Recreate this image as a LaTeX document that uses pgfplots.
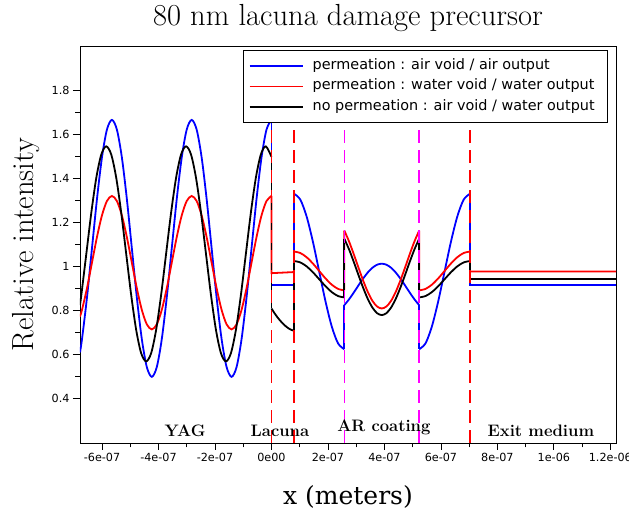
\documentclass[border=0pt]{standalone}
\usepackage{fontspec}
\usepackage{pgfplots}
\pgfplotsset{compat=1.18}
\newfontfamily\dejavu{DejaVu Sans}
\newfontfamily\dejavuserif{DejaVu Serif}
\definecolor{bndred}{RGB}{255,0,0}
\definecolor{bndmag}{RGB}{255,0,255}
\begin{document}
\begin{tikzpicture}[x=1pt,y=1pt]
\useasboundingbox (0,0) rectangle (629,510);
\begin{axis}[
  at={(80pt,67pt)}, anchor=south west, scale only axis,
  width=536pt, height=397pt,
  xmin=-6.78e-7, xmax=1.22e-6, ymin=0.2, ymax=2.0,
  xtick={-6e-7,-4e-7,-2e-7,0,2e-7,4e-7,6e-7,8e-7,1e-6,1.2e-6},
  xticklabels={-6e-07,-4e-07,-2e-07,0e00,2e-07,4e-07,6e-07,8e-07,1e-06,1.2e-06},
  ytick={0.4,0.6,0.8,1.0,1.2,1.4,1.6,1.8},
  yticklabels={0.4,0.6,0.8,1,1.2,1.4,1.6,1.8},
  minor x tick num=1, minor y tick num=1,
  scaled ticks=false,
  tick align=outside, xtick pos=lower, ytick pos=left,
  major tick length=7pt, minor tick length=4.5pt,
  tick style={black, line width=0.8pt},
  ticklabel style={font=\dejavu\fontsize{11.2}{13}\selectfont},
  axis line style={line width=0.8pt},
  title={80 nm lacuna damage precursor},
  every axis title/.style={font=\fontsize{30.5}{36}\selectfont, at={(axis description cs:0.5,1)}, anchor=base, yshift=20pt},
  xlabel={x (meters)},
  every axis x label/.style={font=\dejavuserif\fontsize{25}{30}\selectfont, at={(axis description cs:0.5,0)}, anchor=base, yshift=-62pt},
  ylabel={Relative intensity},
  every axis y label/.style={font=\fontsize{30.5}{36}\selectfont, at={(axis description cs:-0.1007,0.5)}, rotate=90, anchor=center},
  legend style={at={(axis description cs:1,1)}, anchor=north east, xshift=-8pt, yshift=-4pt,
    font=\dejavu\fontsize{14.4}{17}\selectfont, draw=black, line width=0.7pt,
    inner xsep=4pt, inner ysep=5.5pt, row sep=0pt,
    nodes={inner xsep=0pt, inner ysep=3.5pt, text height=10pt, text depth=3.5pt},
    cells={anchor=west}},
  legend image code/.code={\path[draw=none,fill=none] (-2pt,0pt) -- (63pt,0pt); \draw[#1, line width=1.8pt] (0pt,0pt) -- (53pt,0pt);},
  every axis plot/.append style={line width=1.8pt},
]
% ---------- YAG region (legend carriers) ----------
\addplot[blue, smooth] coordinates {
(-6.78e-7,0.611) (-6.7094e-7,0.6706) (-6.5328e-7,0.8596) (-6.3563e-7,1.0825) (-6.1797e-7,1.3054)
(-6.0031e-7,1.4944) (-5.8266e-7,1.6207) (-5.65e-7,1.665) (-5.4734e-7,1.6207) (-5.2969e-7,1.4944)
(-5.1203e-7,1.3054) (-4.9438e-7,1.0825) (-4.7672e-7,0.8596) (-4.5906e-7,0.6706) (-4.4141e-7,0.5443)
(-4.2375e-7,0.5) (-4.0609e-7,0.5443) (-3.8844e-7,0.6706) (-3.7078e-7,0.8596) (-3.5313e-7,1.0825)
(-3.3547e-7,1.3054) (-3.1781e-7,1.4944) (-3.0016e-7,1.6207) (-2.825e-7,1.665) (-2.6484e-7,1.6207)
(-2.4719e-7,1.4944) (-2.2953e-7,1.3054) (-2.1188e-7,1.0825) (-1.9422e-7,0.8596) (-1.7656e-7,0.6706)
(-1.5891e-7,0.5443) (-1.4125e-7,0.5) (-1.2359e-7,0.5443) (-1.0594e-7,0.6706) (-0.8828e-7,0.8596)
(-0.7063e-7,1.0825) (-0.5297e-7,1.3054) (-0.3531e-7,1.4944) (-0.1766e-7,1.6207) (0,1.665)};
\addlegendentry{permeation : air void / air output\hspace*{9pt}}
\addplot[red, smooth] coordinates {
(-6.78e-7,0.773) (-6.7094e-7,0.8036) (-6.5328e-7,0.9017) (-6.3563e-7,1.0175) (-6.1797e-7,1.1333)
(-6.0031e-7,1.2314) (-5.8266e-7,1.297) (-5.65e-7,1.32) (-5.4734e-7,1.297) (-5.2969e-7,1.2314)
(-5.1203e-7,1.1333) (-4.9438e-7,1.0175) (-4.7672e-7,0.9017) (-4.5906e-7,0.8036) (-4.4141e-7,0.738)
(-4.2375e-7,0.715) (-4.0609e-7,0.738) (-3.8844e-7,0.8036) (-3.7078e-7,0.9017) (-3.5313e-7,1.0175)
(-3.3547e-7,1.1333) (-3.1781e-7,1.2314) (-3.0016e-7,1.297) (-2.825e-7,1.32) (-2.6484e-7,1.297)
(-2.4719e-7,1.2314) (-2.2953e-7,1.1333) (-2.1188e-7,1.0175) (-1.9422e-7,0.9017) (-1.7656e-7,0.8036)
(-1.5891e-7,0.738) (-1.4125e-7,0.715) (-1.2359e-7,0.738) (-1.0594e-7,0.8036) (-0.8828e-7,0.9017)
(-0.7063e-7,1.0175) (-0.5297e-7,1.1333) (-0.3531e-7,1.2314) (-0.1766e-7,1.297) (0,1.32)};
\addlegendentry{permeation : water void / water output\hspace*{9pt}}
\addplot[black, smooth] coordinates {
(-6.78e-7,0.825) (-6.7328e-7,0.8709) (-6.5563e-7,1.0575) (-6.3797e-7,1.2441) (-6.2031e-7,1.4022)
(-6.0266e-7,1.5079) (-5.85e-7,1.545) (-5.6734e-7,1.5079) (-5.4969e-7,1.4022) (-5.3203e-7,1.2441)
(-5.1438e-7,1.0575) (-4.9672e-7,0.8709) (-4.7906e-7,0.7128) (-4.6141e-7,0.6071) (-4.4375e-7,0.57)
(-4.2609e-7,0.6071) (-4.0844e-7,0.7128) (-3.9078e-7,0.8709) (-3.7313e-7,1.0575) (-3.5547e-7,1.2441)
(-3.3781e-7,1.4022) (-3.2016e-7,1.5079) (-3.025e-7,1.545) (-2.8484e-7,1.5079) (-2.6719e-7,1.4022)
(-2.4953e-7,1.2441) (-2.3188e-7,1.0575) (-2.1422e-7,0.8709) (-1.9656e-7,0.7128) (-1.7891e-7,0.6071)
(-1.6125e-7,0.57) (-1.4359e-7,0.6071) (-1.2594e-7,0.7128) (-1.0828e-7,0.8709) (-0.9063e-7,1.0575)
(-0.7297e-7,1.2441) (-0.5531e-7,1.4022) (-0.3766e-7,1.5079) (-0.2e-7,1.545) (0,1.4975)};
\addlegendentry{no permeation : air void / water output\hspace*{9pt}}

% ---------- blue: other layers ----------
\addplot[blue, forget plot, unbounded coords=jump] coordinates {
(0,1.665) (0,0.915) (0.8e-7,0.915) (0.8e-7,1.33) (1e-7,nan)
(2.58e-7,0.625) (2.58e-7,0.8252) (3e-7,nan)
(5.23e-7,0.8252) (5.23e-7,0.625) (6e-7,nan)
(7.03e-7,1.33) (7.03e-7,0.915) (1.22e-6,0.915)};
\addplot[blue, smooth, forget plot] coordinates {
(0.8e-7,1.33) (1.0225e-7,1.3032) (1.245e-7,1.2267) (1.4675e-7,1.1124) (1.69e-7,0.9775)
(1.9125e-7,0.8426) (2.135e-7,0.7282) (2.3575e-7,0.6518) (2.58e-7,0.625)};
\addplot[blue, smooth, forget plot] coordinates {
(2.58e-7,0.8252) (2.7456e-7,0.8511) (2.9113e-7,0.8815) (3.0769e-7,0.9138) (3.2425e-7,0.9451)
(3.4081e-7,0.9728) (3.5738e-7,0.9945) (3.7394e-7,1.0083) (3.905e-7,1.013) (4.0706e-7,1.0083)
(4.2363e-7,0.9945) (4.4019e-7,0.9728) (4.5675e-7,0.9451) (4.7331e-7,0.9138) (4.8988e-7,0.8815)
(5.0644e-7,0.8511) (5.23e-7,0.8252)};
\addplot[blue, smooth, forget plot] coordinates {
(5.23e-7,0.625) (5.455e-7,0.6518) (5.68e-7,0.7282) (5.905e-7,0.8426) (6.13e-7,0.9775)
(6.355e-7,1.1124) (6.58e-7,1.2267) (6.805e-7,1.3032) (7.03e-7,1.33)};

% ---------- red: other layers ----------
\addplot[red, forget plot, unbounded coords=jump] coordinates {
(0,1.32) (0,0.97) (0.8e-7,0.975) (0.8e-7,1.068) (1e-7,nan)
(2.58e-7,0.892) (2.58e-7,1.163) (3e-7,nan)
(5.23e-7,1.163) (5.23e-7,0.892) (6e-7,nan)
(7.03e-7,1.068) (7.03e-7,0.978) (1.22e-6,0.978)};
\addplot[red, smooth, forget plot] coordinates {
(0.8e-7,1.068) (1.0225e-7,1.0613) (1.245e-7,1.0422) (1.4675e-7,1.0137) (1.69e-7,0.98)
(1.9125e-7,0.9463) (2.135e-7,0.9178) (2.3575e-7,0.8987) (2.58e-7,0.892)};
\addplot[red, smooth, forget plot] coordinates {
(2.58e-7,1.163) (2.7456e-7,1.1143) (2.9113e-7,1.0571) (3.0769e-7,0.9965) (3.2425e-7,0.9377)
(3.4081e-7,0.8856) (3.5738e-7,0.8448) (3.7394e-7,0.8189) (3.905e-7,0.81) (4.0706e-7,0.8189)
(4.2363e-7,0.8448) (4.4019e-7,0.8856) (4.5675e-7,0.9377) (4.7331e-7,0.9965) (4.8988e-7,1.0571)
(5.0644e-7,1.1143) (5.23e-7,1.163)};
\addplot[red, smooth, forget plot] coordinates {
(5.23e-7,0.892) (5.455e-7,0.8987) (5.68e-7,0.9178) (5.905e-7,0.9463) (6.13e-7,0.98)
(6.355e-7,1.0137) (6.58e-7,1.0422) (6.805e-7,1.0613) (7.03e-7,1.068)};

% ---------- black: other layers ----------
\addplot[black, forget plot, unbounded coords=jump] coordinates {
(0,1.4975) (0,0.81) (0.5e-7,nan)
(0.8e-7,0.709) (0.8e-7,1.025) (1e-7,nan)
(2.58e-7,0.86) (2.58e-7,1.126) (3e-7,nan)
(5.23e-7,1.126) (5.23e-7,0.86) (6e-7,nan)
(7.03e-7,1.025) (7.03e-7,0.942) (1.22e-6,0.942)};
\addplot[black, smooth, forget plot] coordinates {
(0,0.81) (1e-8,0.79) (2e-8,0.772) (3e-8,0.756) (4e-8,0.742) (5e-8,0.73) (6e-8,0.72) (7e-8,0.713) (8e-8,0.709)};
\addplot[black, smooth, forget plot] coordinates {
(0.8e-7,1.025) (1.0225e-7,1.0187) (1.245e-7,1.0008) (1.4675e-7,0.9741) (1.69e-7,0.9425)
(1.9125e-7,0.9109) (2.135e-7,0.8842) (2.3575e-7,0.8663) (2.58e-7,0.86)};
\addplot[black, smooth, forget plot] coordinates {
(2.58e-7,1.126) (2.7456e-7,1.0783) (2.9113e-7,1.0222) (3.0769e-7,0.9628) (3.2425e-7,0.9051)
(3.4081e-7,0.8541) (3.5738e-7,0.8142) (3.7394e-7,0.7887) (3.905e-7,0.78) (4.0706e-7,0.7887)
(4.2363e-7,0.8142) (4.4019e-7,0.8541) (4.5675e-7,0.9051) (4.7331e-7,0.9628) (4.8988e-7,1.0222)
(5.0644e-7,1.0783) (5.23e-7,1.126)};
\addplot[black, smooth, forget plot] coordinates {
(5.23e-7,0.86) (5.455e-7,0.8663) (5.68e-7,0.8842) (5.905e-7,0.9109) (6.13e-7,0.9425)
(6.355e-7,0.9741) (6.58e-7,1.0008) (6.805e-7,1.0187) (7.03e-7,1.025)};

% vertical boundaries (on top)
\addplot[bndred, line width=1.5pt, dash pattern=on 13pt off 7pt, forget plot] coordinates {(0.001e-7,0.2) (0.001e-7,2.0)};
\addplot[bndred, line width=1.5pt, dash pattern=on 13pt off 7pt, forget plot] coordinates {(0.8e-7,0.2) (0.8e-7,2.0)};
\addplot[bndmag, line width=1.5pt, dash pattern=on 13pt off 7pt, forget plot] coordinates {(2.58e-7,0.2) (2.58e-7,2.0)};
\addplot[bndmag, line width=1.5pt, dash pattern=on 13pt off 7pt, forget plot] coordinates {(5.23e-7,0.2) (5.23e-7,2.0)};
\addplot[bndred, line width=1.5pt, dash pattern=on 13pt off 7pt, forget plot] coordinates {(7.03e-7,0.2) (7.03e-7,2.0)};

% region labels
\node[font=\bfseries\fontsize{16.6}{19}\selectfont, anchor=base] at (axis cs:-3.06e-7,0.228) {YAG};
\node[font=\bfseries\fontsize{16.6}{19}\selectfont, anchor=base] at (axis cs:0.3e-7,0.228) {Lacuna};
\node[font=\bfseries\fontsize{16.6}{19}\selectfont, anchor=base] at (axis cs:3.98e-7,0.251) {AR coating};
\node[font=\bfseries\fontsize{16.6}{19}\selectfont, anchor=base] at (axis cs:9.54e-7,0.228) {Exit medium};
\end{axis}
\end{tikzpicture}
\end{document}
